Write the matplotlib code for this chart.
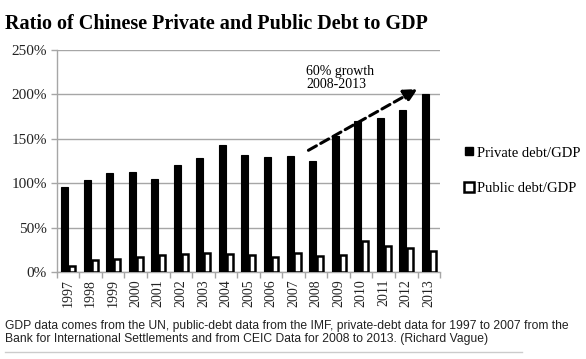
import matplotlib.pyplot as plt
import numpy as np
from matplotlib.lines import Line2D

years = ["1997", "1998", "1999", "2000", "2001", "2002", "2003", "2004", "2005",
         "2006", "2007", "2008", "2009", "2010", "2011", "2012", "2013"]
private = [96, 104, 111, 113, 105, 120, 128, 143, 132,
           129, 131, 125, 153, 170, 173, 182, 200]
public = [7, 13, 15, 17, 19, 20, 21, 20, 19,
          17, 21, 18, 19, 35, 29, 27, 24]
yticks = [0, 50, 100, 150, 200, 250]

SERIF = ["Liberation Serif", "DejaVu Serif"]
GRID = "#a6a6a6"

fig = plt.figure(figsize=(5.86, 3.59), dpi=100)
ax = fig.add_axes([0.097, 0.2423, 0.654, 0.6187])

x = np.arange(len(years))
w = 0.31
ax.bar(x - w / 2, private, width=w, color="black", edgecolor="black", linewidth=0.8,
       label="Private debt/GDP", zorder=3)
ax.bar(x + w / 2 + 0.02, public, width=w - 0.04, color="white", edgecolor="black",
       linewidth=1.8, label="Public debt/GDP", zorder=3)

ax.set_xlim(-0.5, len(years) - 0.5)
ax.set_ylim(0, 250)
ax.set_yticks(yticks)
ax.set_yticklabels([f"{v}%" for v in yticks], family=SERIF, fontsize=11, color="#222222")
ax.yaxis.grid(True, color=GRID, linewidth=1)
ax.set_axisbelow(True)

ax.set_xticks(x)
ax.set_xticklabels(years, rotation=90, family=SERIF, fontsize=10, color="#222222")
ax.set_xticks(np.arange(len(years) + 1) - 0.5, minor=True)
ax.tick_params(axis="x", which="major", length=0, pad=5)
ax.tick_params(axis="x", which="minor", length=4, color=GRID, width=1)
ax.tick_params(axis="y", length=4, color=GRID, width=1, pad=3)

for s in ["top", "right"]:
    ax.spines[s].set_visible(False)
for s in ["left", "bottom"]:
    ax.spines[s].set_color(GRID)
    ax.spines[s].set_linewidth(1)

# growth arrow
ax.annotate("", xy=(15.5, 206), xytext=(10.66, 137),
            arrowprops=dict(arrowstyle="-|>,head_length=0.8,head_width=0.4",
                            linestyle=(0, (3, 1.6)), color="black", lw=2.2,
                            shrinkA=0, shrinkB=0))
ax.text(10.57, 233, "60% growth\n2008-2013", family=SERIF, fontsize=10,
        va="top", ha="left", linespacing=1.0)

handles = [Line2D([], [], marker="s", color="black", markersize=6, linestyle="none",
                  markerfacecolor="black"),
           Line2D([], [], marker="s", color="black", markersize=7, linestyle="none",
                  markerfacecolor="white", markeredgewidth=1.8)]
fig.legend(handles, ["Private debt/GDP", "Public debt/GDP"], loc="center left",
           bbox_to_anchor=(0.77, 0.524), frameon=False, prop={"family": SERIF, "size": 10.5},
           handlelength=0.6, handletextpad=0.3, labelspacing=1.55)

fig.text(0.009, 0.96, "Ratio of Chinese Private and Public Debt to GDP", family=SERIF,
         fontsize=14.5, fontweight="bold", va="top", ha="left")

fig.text(0.009, 0.11,
         "GDP data comes from the UN, public-debt data from the IMF, private-debt data for 1997 to 2007 from the\n"
         "Bank for International Settlements and from CEIC Data for 2008 to 2013. (Richard Vague)",
         family="Liberation Sans", fontsize=8.7, va="top", ha="left",
         color="#222222", linespacing=1.2)

fig.add_artist(Line2D([0.009, 0.89], [0.02, 0.02], color="#cccccc", lw=1))

fig.savefig("out.png", dpi=100)
